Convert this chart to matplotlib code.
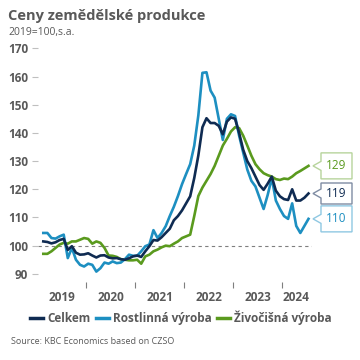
import matplotlib
matplotlib.use("Agg")
import matplotlib.pyplot as plt
import matplotlib.transforms as mtransforms
from matplotlib.patches import Polygon
import numpy as np

plt.rcParams['font.family'] = ['Open Sans', 'DejaVu Sans']

# monthly index values, Feb 2019 .. Jul 2024 (2019=100, s.a.)
celkem = [101.5, 101.3, 100.8, 101.2, 102.0, 102.4, 98.5, 99.8, 97.5, 96.8,
          96.9, 97.3, 96.5, 95.8, 96.5, 96.6, 95.8, 95.5, 95.6, 95.2,
          95.0, 95.5, 96.2, 96.5, 96.0, 98.0, 99.8, 102.0, 101.8, 103.0,
          104.5, 106.0, 109.0, 110.5, 112.5, 115.0, 117.5, 124.0, 132.0, 142.0,
          145.2, 143.5, 143.5, 142.5, 139.5, 144.0, 145.5, 145.0, 140.0, 134.0,
          130.0, 127.5, 124.5, 121.5, 119.8, 122.0, 124.5, 119.5, 117.5, 116.5,
          116.2, 120.0, 116.0, 116.0, 117.0, 118.5]
rostlinna = [104.5, 104.5, 102.7, 102.5, 103.3, 103.9, 95.6, 99.2, 95.0, 93.2,
             92.6, 93.6, 93.2, 90.8, 92.0, 94.0, 93.6, 94.4, 93.8, 94.0,
             95.2, 96.8, 96.4, 96.4, 98.0, 99.8, 100.4, 105.5, 102.7, 104.5,
             106.9, 110.5, 113.8, 117.6, 121.8, 125.4, 128.9, 135.5, 146.2, 161.3,
             161.5, 155.0, 152.5, 145.0, 137.5, 145.0, 146.6, 146.0, 139.0, 133.0,
             127.0, 123.0, 121.0, 117.0, 113.0, 118.0, 124.0, 116.0, 113.0, 110.5,
             109.5, 115.0, 107.0, 104.5, 107.0, 109.5]
zivocisna = [97.1, 97.1, 98.0, 99.2, 100.4, 101.0, 100.7, 101.5, 101.5, 102.1,
             102.7, 102.4, 100.7, 101.5, 101.0, 99.2, 96.5, 96.4, 96.0, 95.2,
             95.0, 94.8, 94.8, 95.0, 93.6, 96.2, 96.8, 98.0, 98.6, 99.4,
             100.0, 99.8, 100.7, 101.5, 102.7, 103.3, 103.9, 110.5, 117.6, 120.6,
             123.0, 125.4, 128.3, 131.9, 135.5, 137.9, 140.5, 142.0, 141.7, 139.0,
             135.5, 131.9, 128.9, 127.1, 125.7, 125.0, 124.5, 123.6, 123.3, 123.8,
             123.6, 124.5, 125.7, 126.5, 127.4, 128.3]

series_names = ['Celkem', 'Rostlinná výroba', 'Živočišná výroba']
end_labels = ['119', '110', '129']
years = ['2019', '2020', '2021', '2022', '2023', '2024']
year_pos = [4.5, 16.5, 28.5, 40.5, 52.5, 62.0]
year_breaks = [10.5, 22.5, 34.5, 46.5, 58.5]
yticks = [90, 100, 110, 120, 130, 140, 150, 160, 170]

colors = ['#0f2b52', '#1d8fc1', '#5a9a1e']
box_edges = ['#7f8ca3', '#8fc8e2', '#b7d49c']
box_heights = [21, 26, 26]  # px

fig = plt.figure(figsize=(3.6, 3.6), dpi=100)
W = H = 360.0
ax = fig.add_axes([38 / W, 1 - 282.3 / H, 274 / W, (282.3 - 45.5) / H])

x = np.arange(len(celkem))
ax.axhline(100, xmin=0, xmax=1, color='#7f7f7f', lw=0.8, ls=(0, (3, 3)), zorder=1)
ax.set_xlim(-1.3, 65.86)
ax.set_ylim(87, 171)

data = [celkem, rostlinna, zivocisna]
order = [2, 1, 0]
for k in order:
    ax.plot(x, data[k], color=colors[k], lw=1.9, zorder=3 + (k == 0),
            solid_joinstyle='round', label=series_names[k])

for s in ax.spines.values():
    s.set_visible(False)

ax.set_yticks(yticks)
ax.set_yticklabels([str(v) for v in yticks], fontweight='bold', fontsize=8.5, color='#595959')
ax.tick_params(axis='y', length=4, width=0.8, color='#bfbfbf', pad=3)

ax.set_xticks(year_pos)
ax.set_xticklabels(years, fontweight='bold', fontsize=8.5, color='#595959')
ax.set_xticks(year_breaks, minor=True)
ax.tick_params(axis='x', which='major', length=0, pad=6.5)
ax.tick_params(axis='x', which='minor', length=4, width=0.8, color='#7f7f7f', pad=0)

# callout boxes at the line ends
fig.canvas.draw()
for k in range(3):
    yv = data[k][-1]
    tr = fig.dpi_scale_trans + mtransforms.ScaledTranslation(x[-1], yv, ax.transData)
    h = box_heights[k] / 2.0
    tip, left, right, notch = 4.5, 12.5, 43.5, 4.5
    verts = np.array([(tip, 0), (left, notch), (left, h), (right, h),
                      (right, -h), (left, -h), (left, -notch)]) / 100.0
    poly = Polygon(verts, closed=True, transform=tr, facecolor='white',
                   edgecolor=box_edges[k], lw=1.0, clip_on=False, zorder=5)
    fig.add_artist(poly)
    fig.text((left + right) / 200.0, 0, end_labels[k], transform=tr,
             ha='center', va='center', fontsize=8.5, color=colors[k], zorder=6)

handles, labels = ax.get_legend_handles_labels()
handles = [handles[order.index(k)] for k in range(3)]
leg = fig.legend(handles, series_names, loc='center', bbox_to_anchor=(181 / W, 1 - 318 / H),
                 ncol=3, frameon=False, handlelength=1.1, handletextpad=0.3,
                 columnspacing=0.5, prop={'weight': 'bold', 'size': 8.5})
for t in leg.get_texts():
    t.set_color('#595959')
for l in leg.get_lines():
    l.set_linewidth(2.5)

fig.text(8 / W, 1 - 16 / H, 'Ceny zemědělské produkce', fontsize=10.5, fontweight='bold',
         color='#595959', va='center', ha='left')
fig.text(8 / W, 1 - 33 / H, '2019=100,s.a.', fontsize=7.5, color='#595959', va='center', ha='left')
fig.text(11 / W, 1 - 342 / H, 'Source: KBC Economics based on CZSO', fontsize=6.5,
         color='#595959', va='center', ha='left')

fig.savefig('out.png', dpi=100)
